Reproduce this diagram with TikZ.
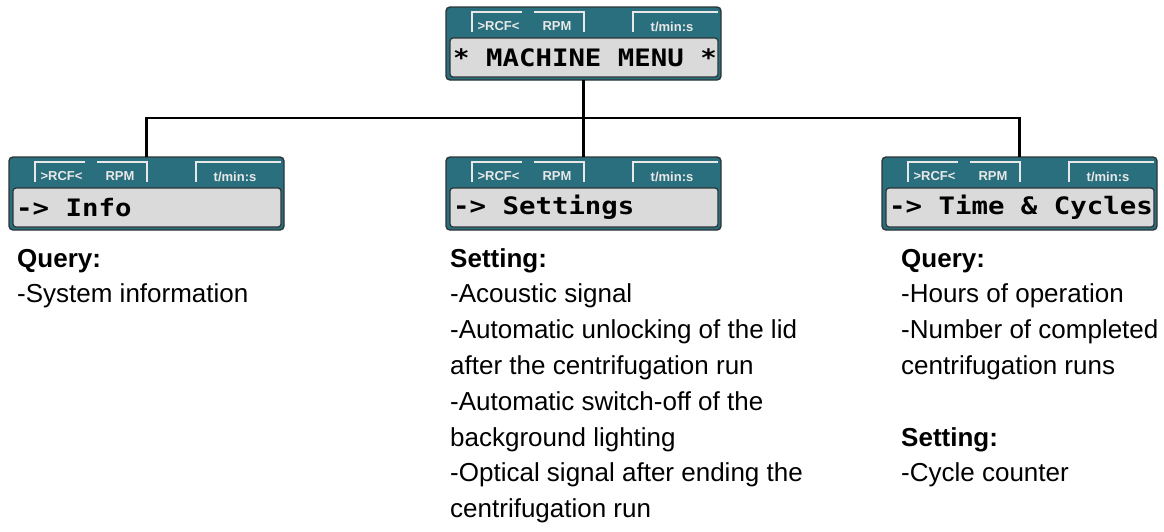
\documentclass[tikz,border=0pt]{standalone}
\usepackage{fontspec}
\setmainfont{Liberation Sans}
\newfontfamily\lcdfont[FakeStretch=1.14]{DejaVu Sans Mono}
\usetikzlibrary{calc}
\definecolor{panel}{HTML}{2A6F7D}
\definecolor{lcdbg}{HTML}{DADADA}
\definecolor{rim}{HTML}{2B3436}
\definecolor{tabc}{HTML}{E8E8E8}
\tikzset{
  outerbox/.style={draw=rim, line width=1.4pt, fill=panel, rounded corners=4pt,
    minimum width=275pt, minimum height=73pt, inner sep=0pt, outer sep=0pt},
  displaybox/.style={draw=rim, line width=1.2pt, fill=lcdbg, rounded corners=3pt,
    minimum width=268pt, minimum height=39pt, inner sep=0pt, outer sep=0pt},
  lcd/.style={inner sep=0pt, font=\lcdfont\bfseries\fontsize{24}{24}\selectfont},
  tabline/.style={draw=tabc, line width=1.6pt},
  tablabel/.style={inner sep=0pt, text=tabc, font=\bfseries\fontsize{13}{13}\selectfont},
  conn/.style={draw=black, line width=2.6pt},
  bodytext/.style={inner sep=0pt, anchor=base west}
}
\newcommand\menubox[4]{%
  \begin{scope}[shift={(#2,-#3)}]
    \node[outerbox, anchor=north west] (#1) at (0,0) {};
    \node[displaybox, anchor=north west] (#1-d) at (4,-31) {};
    \node[lcd, anchor=west] (#1-t) at ($(#1-d.west)+(3,0)$) {#4};
    \draw[tabline] (26,-25) -- (26,-5) -- (76,-5);
    \draw[tabline] (88,-5) -- (138,-5) -- (138,-25);
    \draw[tabline] (187,-25) -- (187,-5) -- (272,-5);
    \node[tablabel] (#1-rcf) at (52.5,-19.5) {>RCF<};
    \node[tablabel] (#1-rpm) at (111,-19.5) {RPM};
    \node[tablabel] (#1-tim) at (226,-19.5) {t/min:s};
  \end{scope}}
\begin{document}
\begin{tikzpicture}[x=1pt,y=1pt]
  \useasboundingbox (0,0) rectangle (1164,-531);
  \menubox{top}{446}{7}{* MACHINE MENU *}
  \menubox{info}{9}{157}{-> Info}
  \menubox{set}{446}{157}{-> Settings}
  \menubox{time}{882}{157}{-> Time \& Cycles}
  \coordinate (hub) at (top.south |- 0,-118);
  \draw[conn] (top.south) -- (hub);
  \draw[conn, line join=miter] (info.north) |- (hub) -| (time.north);
  \draw[conn] (hub) -- (set.north);
  \node[bodytext] (infotxt) at (17,-267) {\parbox[t]{300pt}{\fontsize{26}{35.8}\selectfont\raggedright
    \textbf{Query:}\\-System information}};
  \node[bodytext] (settxt) at (450,-267) {\parbox[t]{420pt}{\fontsize{26}{35.8}\selectfont\raggedright
    \textbf{Setting:}\\-Acoustic signal\\-Automatic unlocking of the lid\\after the centrifugation run\\-Automatic switch-off of the\\background lighting\\-Optical signal after ending the\\centrifugation run}};
  \node[bodytext] (timetxt) at (901,-267) {\parbox[t]{300pt}{\fontsize{26}{35.8}\selectfont\raggedright
    \textbf{Query:}\\-Hours of operation\\-Number of completed\\centrifugation runs\\[35.8pt]\textbf{Setting:}\\-Cycle counter}};
\end{tikzpicture}
\end{document}
